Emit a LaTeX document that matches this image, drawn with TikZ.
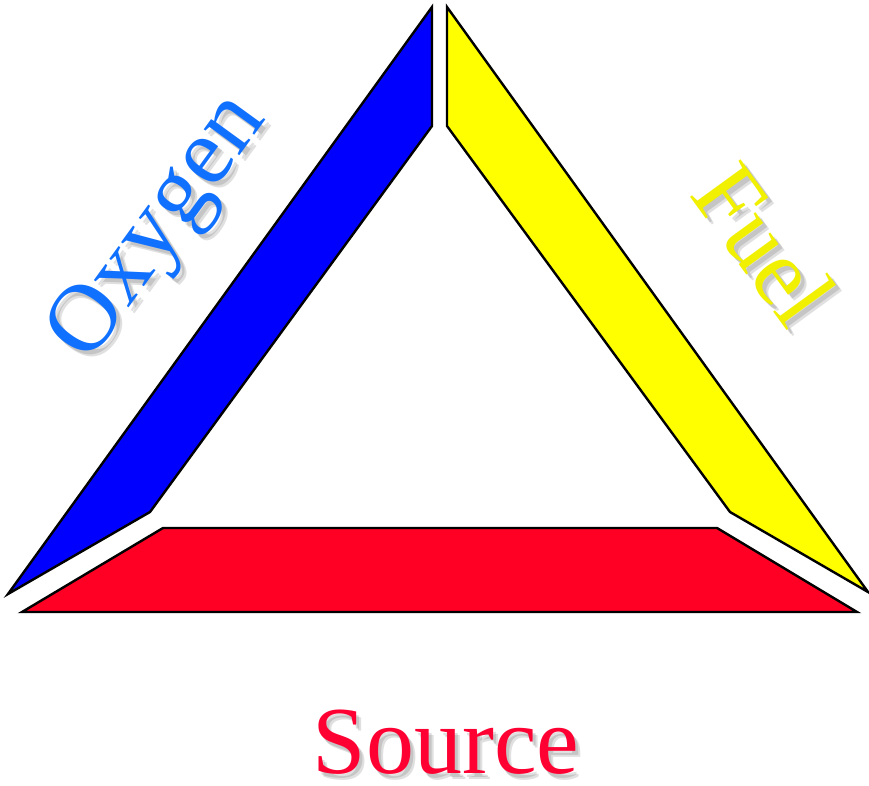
\documentclass[tikz,border=0pt]{standalone}
\usepackage{fontspec}
\setmainfont{Liberation Serif}
\definecolor{oxblue}{RGB}{0,0,255}
\definecolor{fuyellow}{RGB}{255,255,0}
\definecolor{sored}{RGB}{255,0,36}
\definecolor{oxtext}{RGB}{16,112,255}
\definecolor{futext}{RGB}{240,240,0}
\definecolor{sotext}{RGB}{255,0,50}
\tikzset{
  side/.style={draw=black, line width=2.4pt, line join=miter},
  lbl/.style={font=\fontsize{96}{96}\selectfont, inner sep=0pt},
  shadowlbl/.style={lbl, text=black, opacity=0.12}
}
\begin{document}
\begin{tikzpicture}[x=1pt,y=-1pt]
\useasboundingbox (0,0) rectangle (869,786);
% sides
\draw[side, fill=oxblue] (432,7) -- (432,126) -- (150,512) -- (8,594) -- cycle;
\draw[side, fill=fuyellow] (447,7) -- (447,126) -- (730,512) -- (868,592) -- cycle;
\draw[side, fill=sored] (163,528) -- (717,528) -- (857,612) -- (22,612) -- cycle;
% shadows
\node[shadowlbl, rotate=54] at (164,233) {Oxygen};
\node[shadowlbl, rotate=54] at (166,235) {Oxygen};
\node[shadowlbl, rotate=-54] at (769,248) {Fuel};
\node[shadowlbl, rotate=-54] at (771,250) {Fuel};
\node[shadowlbl] at (449,746) {Source};
\node[shadowlbl] at (451,748) {Source};
% labels
\node[lbl, text=oxtext, rotate=54] (oxy) at (160,229) {Oxygen};
\node[lbl, text=futext, rotate=-54] (fuel) at (765,244) {Fuel};
\node[lbl, text=sotext] (src) at (446,742) {Source};
\end{tikzpicture}
\end{document}
